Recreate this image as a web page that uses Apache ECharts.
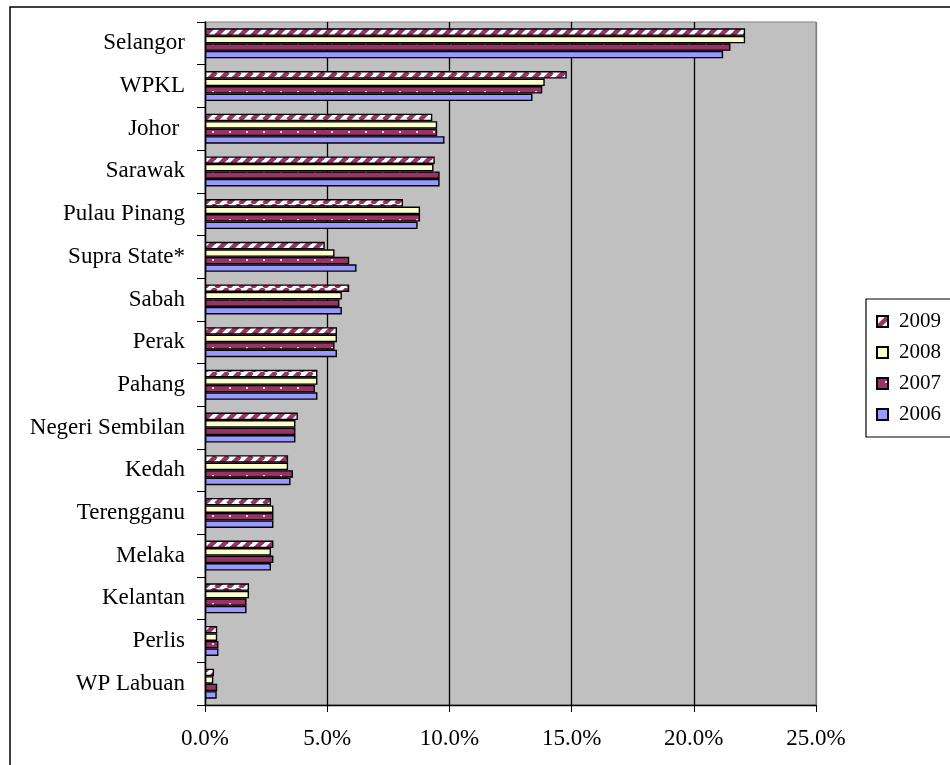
<!DOCTYPE html>
<html>
<head>
<meta charset="utf-8">
<script src="https://cdn.jsdelivr.net/npm/echarts@6/dist/echarts.min.js"></script>
<style>
html,body{margin:0;padding:0;background:#fff;}
#chart{width:950px;height:765px;}
</style>
</head>
<body>
<div id="chart"></div>
<script>
const categories = ['Selangor','WPKL','Johor ','Sarawak','Pulau Pinang','Supra State*','Sabah','Perak','Pahang','Negeri Sembilan','Kedah','Terengganu','Melaka','Kelantan','Perlis','WP Labuan'];
const years = ['2009','2008','2007','2006'];
const v2009 = [22.1,14.8,9.3,9.4,8.1,4.9,5.9,5.4,4.6,3.8,3.4,2.7,2.8,1.8,0.5,0.37];
const v2008 = [22.1,13.9,9.5,9.35,8.8,5.3,5.6,5.4,4.6,3.7,3.4,2.8,2.7,1.8,0.5,0.34];
const v2007 = [21.5,13.8,9.5,9.6,8.8,5.9,5.5,5.3,4.5,3.7,3.6,2.8,2.8,1.7,0.55,0.5];
const v2006 = [21.2,13.4,9.8,9.6,8.7,6.2,5.6,5.4,4.6,3.7,3.5,2.8,2.7,1.7,0.55,0.48];
const xTicks = [0,5,10,15,20,25];

function stripePattern(){
  const c=document.createElement('canvas'); c.width=12; c.height=12;
  const g=c.getContext('2d');
  g.fillStyle='#ffffff'; g.fillRect(0,0,12,12);
  g.strokeStyle='#993366'; g.lineWidth=4.6;
  for (const o of [-12,0,12]) { g.beginPath(); g.moveTo(o,12); g.lineTo(o+12,0); g.stroke(); }
  return c;
}
function dotPattern(){
  const c=document.createElement('canvas'); c.width=17; c.height=8;
  const g=c.getContext('2d');
  g.fillStyle='#993366'; g.fillRect(0,0,17,8);
  g.fillStyle='#f0d0e0'; g.fillRect(8,3,2,2);
  return c;
}
const fills = [
  {image: stripePattern(), repeat:'repeat'},
  '#FFFFCC',
  {image: dotPattern(), repeat:'repeat'},
  '#9999FF'
];
const values = [v2009, v2008, v2007, v2006];
const font = 'Liberation Serif';

const chart = echarts.init(document.getElementById('chart'), null, {renderer:'canvas'});
chart.setOption({
  backgroundColor:'#ffffff',
  animation:false,
  graphic:[{type:'rect', shape:{x:10,y:7,width:1200,height:1200}, style:{fill:'none', stroke:'#000', lineWidth:1.5}, z:-1}],
  legend:{
    data: years,
    orient:'vertical', left:866, top:299,
    padding:[12,100,12,10],
    borderColor:'#000', borderWidth:1.2,
    itemWidth:11, itemHeight:11, itemGap:10,
    icon:'rect',
    textStyle:{fontFamily:font, fontSize:21, color:'#000', lineHeight:20, padding:[0,0,0,6]}
  },
  grid:{left:205, top:22, width:611, height:683, show:true, backgroundColor:'#C0C0C0', borderColor:'#808080', borderWidth:1},
  xAxis:{
    type:'value', min:xTicks[0], max:xTicks[xTicks.length-1], interval:5,
    axisLine:{show:true, lineStyle:{color:'#000', width:1.3}},
    axisTick:{show:true, length:7, lineStyle:{color:'#000'}},
    axisLabel:{fontFamily:font, fontSize:23, color:'#000', margin:22, formatter:v=>v.toFixed(1)+'%'},
    splitLine:{show:true, lineStyle:{color:['#000','#000','#000','#000','#000','#808080'], width:1.3}}
  },
  yAxis:{
    type:'category', data:categories, inverse:true,
    axisLine:{show:true, lineStyle:{color:'#000', width:1.3}},
    axisTick:{show:true, length:8, lineStyle:{color:'#000'}},
    axisLabel:{fontFamily:font, fontSize:23, color:'#000', margin:20}
  },
  series: years.map((y,i)=>({
    name:y, type:'bar', data:values[i],
    barWidth:7.5, barGap:'0%',
    itemStyle:{color:fills[i], borderColor:'#000', borderWidth:1.4},
    emphasis:{disabled:true}
  }))
});
</script>
</body>
</html>
